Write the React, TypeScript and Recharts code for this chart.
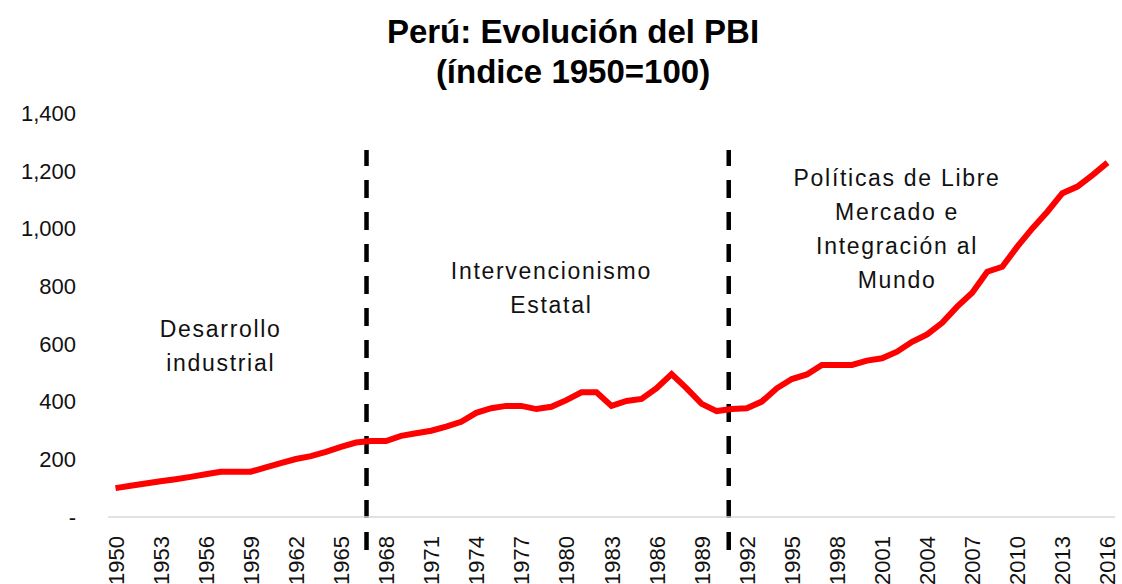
import { LineChart, Line, XAxis, YAxis, ReferenceLine, ReferenceDot } from 'recharts'

const YEARS = Array.from({ length: 67 }, (_, i) => 1950 + i)

const PBI = [
  100, 108, 116, 124, 131, 139, 148, 157, 157, 157,
  172, 187, 201, 211, 226, 243, 258, 263, 263, 281,
  290, 299, 313, 330, 361, 377, 385, 385, 374, 382,
  405, 432, 432, 385, 402, 409, 446, 495, 446, 392,
  367, 374, 377, 400, 446, 478, 494, 527, 527, 527,
  542, 550, 573, 607, 633, 673, 729, 777, 850, 867,
  937, 1000, 1058, 1122, 1145, 1185, 1228,
]

const X_TICKS = YEARS.filter((y) => (y - 1950) % 3 === 0)
const Y_TICKS = [0, 200, 400, 600, 800, 1000, 1200, 1400]

const data = YEARS.map((year, i) => ({ year, pbi: PBI[i] }))

const FONT = '"Liberation Sans", Arial, sans-serif'

function XTick({ x, y, payload }: any) {
  const ty = y + 11
  return (
    <text
      transform={`rotate(-90, ${x}, ${ty})`}
      textAnchor="end"
      dominantBaseline="central"
      fontSize={22}
      fontFamily={FONT}
      fill="#111"
    >
      <tspan x={x} y={ty}>{payload.value}</tspan>
    </text>
  )
}

function Note({ viewBox, lines }: any) {
  const cx = viewBox.x + viewBox.width / 2
  const cy = viewBox.y + viewBox.height / 2
  const lh = 34
  return (
    <text textAnchor="middle" fontSize={23} fontFamily={FONT} fill="#111" letterSpacing={1.7}>
      {lines.map((l: string, i: number) => (
        <tspan key={i} x={cx} y={cy + (i - (lines.length - 1) / 2) * lh} dominantBaseline="central">
          {l}
        </tspan>
      ))}
    </text>
  )
}

const dashed = { stroke: '#000', strokeWidth: 4.5, strokeDasharray: '18 14' }

export default function App() {
  return (
    <div style={{ position: 'absolute', left: 0, top: 0, width: 1122, height: 584, background: '#fff' }}>
      <div
        style={{
          position: 'absolute',
          left: 0,
          top: 12,
          width: 1146,
          textAlign: 'center',
          fontFamily: FONT,
          fontWeight: 'bold',
          fontSize: 33,
          lineHeight: '40px',
          color: '#000',
        }}
      >
        Perú: Evolución del PBI
        <br />
        (índice 1950=100)
      </div>
      <LineChart width={1122} height={584} data={data} margin={{ top: 113, right: 7, bottom: 0, left: 8 }}>
        <XAxis
          dataKey="year"
          type="number"
          domain={[1949.5, 2016.5]}
          ticks={X_TICKS}
          interval={0}
          height={67}
          tickLine={false}
          axisLine={{ stroke: '#d9d9d9', strokeWidth: 1.5 }}
          tick={<XTick />}
        />
        <YAxis
          width={100}
          domain={[0, 1400]}
          ticks={Y_TICKS}
          axisLine={false}
          tickLine={false}
          tickSize={0}
          tickMargin={32}
          tick={{ fontSize: 22, fontFamily: FONT, fill: '#111' }}
          tickFormatter={(v: number) => (v === 0 ? '-' : v.toLocaleString('en-US'))}
        />
        <ReferenceLine segment={[{ x: 1966.7, y: -114 }, { x: 1966.7, y: 1272 }]} ifOverflow="visible" {...dashed} />
        <ReferenceLine segment={[{ x: 1990.8, y: -114 }, { x: 1990.8, y: 1272 }]} ifOverflow="visible" {...dashed} />
        <ReferenceDot x={1957} y={591} r={0} stroke="none" fill="none" label={<Note lines={['Desarrollo', 'industrial']} />} />
        <ReferenceDot x={1979} y={792} r={0} stroke="none" fill="none" label={<Note lines={['Intervencionismo', 'Estatal']} />} />
        <ReferenceDot
          x={2002}
          y={999}
          r={0}
          stroke="none"
          fill="none"
          label={<Note lines={['Políticas de Libre', 'Mercado e', 'Integración al', 'Mundo']} />}
        />
        <Line type="linear" dataKey="pbi" stroke="#ff0000" strokeWidth={6} dot={false} isAnimationActive={false} />
      </LineChart>
    </div>
  )
}
